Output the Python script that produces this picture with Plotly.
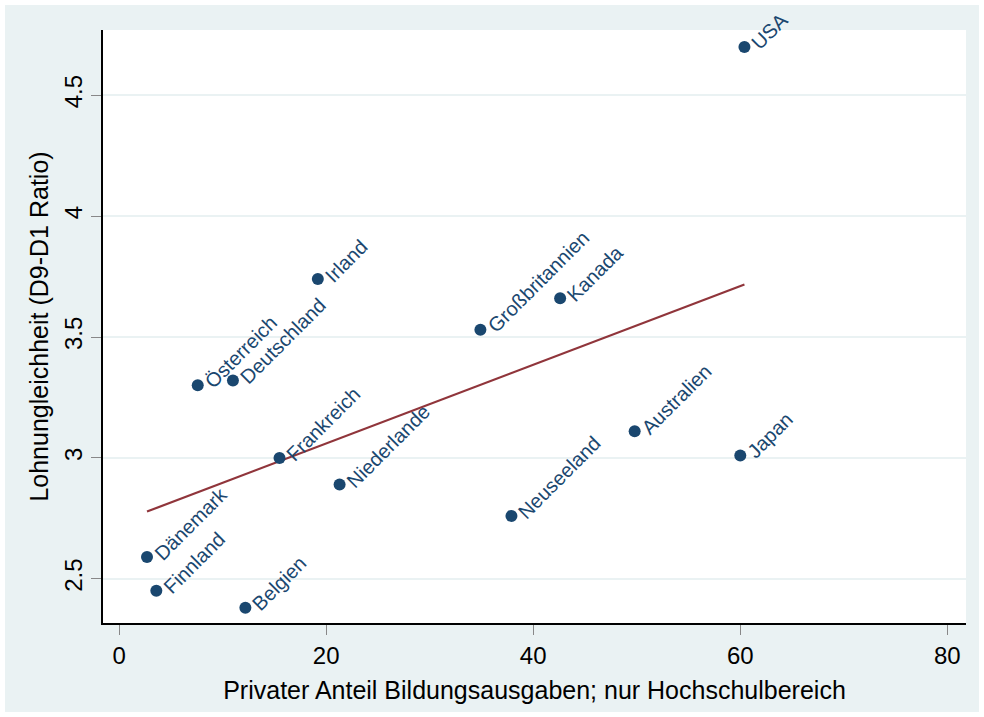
import numpy as np
import plotly.graph_objects as go

countries = ["USA", "Irland", "Österreich", "Deutschland", "Großbritannien", "Kanada",
             "Frankreich", "Niederlande", "Australien", "Japan", "Neuseeland",
             "Dänemark", "Finnland", "Belgien"]
private_share = [60.4, 19.2, 7.6, 11.0, 34.9, 42.6, 15.5, 21.3, 49.8, 60.0, 37.9, 2.7, 3.6, 12.2]
d9_d1 = [4.70, 3.74, 3.30, 3.32, 3.53, 3.66, 3.00, 2.89, 3.11, 3.01, 2.76, 2.59, 2.45, 2.38]

x_ticks = [0, 20, 40, 60, 80]
y_ticks = [2.5, 3, 3.5, 4, 4.5]
y_tick_text = ["2.5", "3", "3.5", "4", "4.5"]

NAVY = "#1a476f"
MAROON = "#90353b"
BG = "#eaf2f3"
FONT = "Liberation Sans, Arial, sans-serif"

x = np.array(private_share)
y = np.array(d9_d1)
b, a = np.polyfit(x, y, 1)
fx = np.array([x.min(), x.max()])
fy = a + b * fx

fig = go.Figure()
fig.add_trace(go.Scatter(x=fx, y=fy, mode="lines",
                         line=dict(color=MAROON, width=2.2), showlegend=False, hoverinfo="skip"))
fig.add_trace(go.Scatter(x=private_share, y=d9_d1, mode="markers",
                         marker=dict(color=NAVY, size=12), showlegend=False))

for c, xv, yv in zip(countries, private_share, d9_d1):
    fig.add_annotation(x=xv, y=yv, text=c, showarrow=False, textangle=-45,
                       xanchor="left", yanchor="bottom", xshift=0, yshift=-10,
                       font=dict(family=FONT, size=20, color=NAVY))

L, R, T, B = 103, 18, 30, 94
W, H = 984, 717
pw, ph = W - L - R, H - T - B
px = lambda v: (v - L) / pw
py = lambda v: (H - B - v) / ph
frame = [(0, 0, W, 5), (0, H - 5, W, H), (0, 0, 5, H), (W - 5, 0, W, H)]
for x0, y0, x1, y1 in frame:
    fig.add_shape(type="rect", xref="paper", yref="paper", layer="above",
                  x0=px(x0), x1=px(x1), y0=py(y1), y1=py(y0),
                  fillcolor="white", line=dict(width=0))

fig.update_layout(
    width=W, height=H,
    margin=dict(l=L, r=R, t=T, b=B),
    paper_bgcolor=BG, plot_bgcolor="white",
    font=dict(family=FONT, color="#000000"),
    xaxis=dict(range=[-1.55, 81.8], tickvals=x_ticks, ticks="outside", ticklen=10,
               tickcolor="#888", showgrid=False, zeroline=False, showline=True,
               linecolor="#000", linewidth=1.5, tickfont=dict(size=24),
               title=dict(text="Privater Anteil Bildungsausgaben; nur Hochschulbereich",
                          font=dict(size=25), standoff=14)),
    yaxis=dict(range=[2.317, 4.77], tickvals=y_ticks, ticktext=y_tick_text,
               ticks="outside", ticklen=10, tickcolor="#888", tickangle=-90,
               ticklabelstandoff=0,
               showgrid=True, gridcolor=BG, gridwidth=2, zeroline=False, showline=True,
               linecolor="#000", linewidth=1.5, tickfont=dict(size=24),
               title=dict(text="Lohnungleichheit (D9-D1 Ratio)", font=dict(size=25), standoff=4)),
)

fig.write_html("out.html")
